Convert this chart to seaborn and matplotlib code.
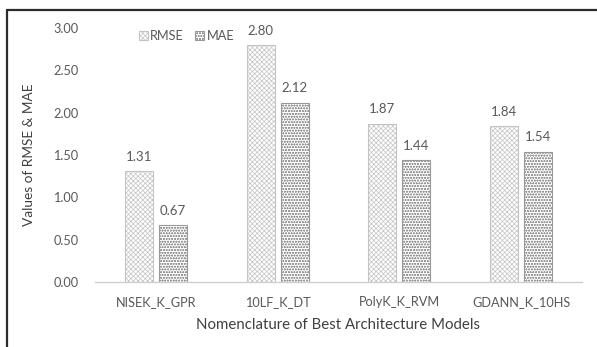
import matplotlib
matplotlib.use("Agg")
import matplotlib.pyplot as plt
from matplotlib.lines import Line2D
from matplotlib.patches import Patch
import seaborn as sns
import pandas as pd

models = ["NISEK_K_GPR", "10LF_K_DT", "PolyK_K_RVM", "GDANN_K_10HS"]
rmse = [1.31, 2.80, 1.87, 1.84]
mae = [0.67, 2.12, 1.44, 1.54]
metrics = ["RMSE", "MAE"]
y_ticks = [0.0, 0.5, 1.0, 1.5, 2.0, 2.5, 3.0]

df = pd.DataFrame({
    "Model": models * 2,
    "Metric": ["RMSE"] * len(models) + ["MAE"] * len(models),
    "Value": rmse + mae,
})

sns.set_style("white")
plt.rcParams["font.family"] = ["Lato", "DejaVu Sans"]
plt.rcParams["hatch.linewidth"] = 0.5

text_color = "#595959"
styles = {
    "RMSE": dict(edge="#c4c4c4", hatch="xxxxxxx"),
    "MAE": dict(edge="#999999", hatch="oooooo"),
}

fig = plt.figure(figsize=(5.97, 3.47), dpi=100)
ax = fig.add_axes([0.159, 0.187, 0.816, 0.732])

sns.barplot(data=df, x="Model", y="Value", hue="Metric", order=models,
            hue_order=metrics, width=0.56, gap=0.18, ax=ax,
            palette=["white", "white"], legend=False, errorbar=None)

for container, metric in zip(ax.containers, metrics):
    st = styles[metric]
    for bar in container:
        bar.set_facecolor("white")
        bar.set_edgecolor(st["edge"])
        bar.set_hatch(st["hatch"])
        bar.set_linewidth(0.8)
    ax.bar_label(container, fmt="%.2f", padding=6, fontsize=9.5, color=text_color)

ax.set_ylim(0, 3.0)
ax.set_yticks(y_ticks)
ax.set_yticklabels([f"{v:.2f}" for v in y_ticks])
ax.set_xlim(-0.5, len(models) - 0.5)
ax.tick_params(axis="both", length=0, labelsize=9.2, colors=text_color, pad=10)
ax.tick_params(axis="y", pad=12)
for side in ["top", "right", "left"]:
    ax.spines[side].set_visible(False)
ax.spines["bottom"].set_color("#d0d0d0")
ax.spines["bottom"].set_linewidth(1.0)
ax.grid(False)

ax.set_xlabel("Nomenclature of Best Architecture Models", fontsize=10.8,
              color="#404040", labelpad=7)
ax.set_ylabel("Values of RMSE & MAE", fontsize=9.8, color="#404040", labelpad=13)

handles = [Patch(facecolor="white", edgecolor=styles[m]["edge"],
                 hatch=styles[m]["hatch"], linewidth=0.8, label=m) for m in metrics]
fig.legend(handles=handles, loc="center left", bbox_to_anchor=(0.213, 0.895),
           ncol=2, frameon=False, fontsize=9.2, handlelength=0.7, handleheight=0.7,
           handletextpad=0.2, columnspacing=0.9, labelcolor=text_color)

# frame around the figure panel
fig.add_artist(Line2D([7 / 597, 7 / 597], [0, 1 - 10 / 347],
                      transform=fig.transFigure, color="#2b2b2b", lw=1.6))
fig.add_artist(Line2D([7 / 597, 1], [1 - 10 / 347, 1 - 10 / 347],
                      transform=fig.transFigure, color="#2b2b2b", lw=1.6))

fig.savefig("out.png", dpi=100)
